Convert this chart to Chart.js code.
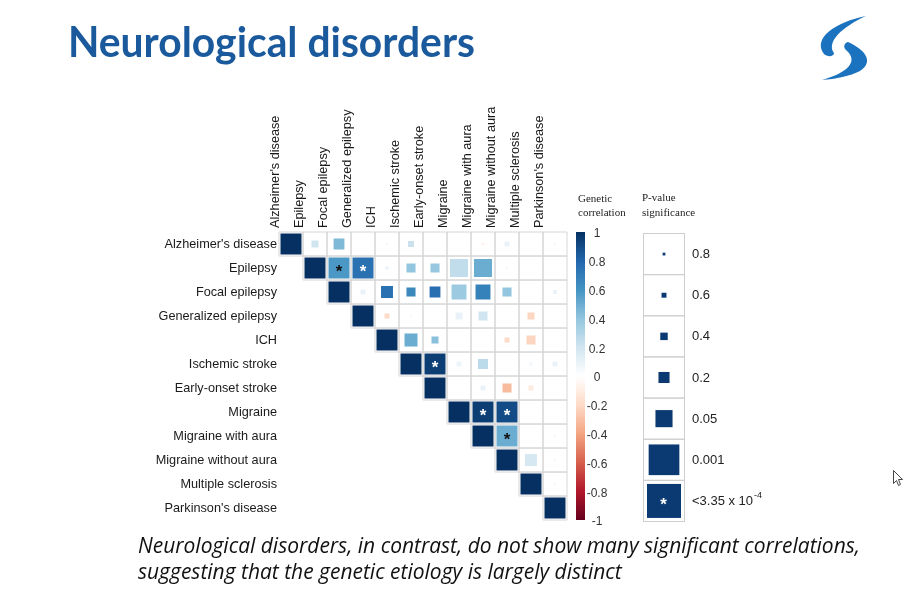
<!DOCTYPE html>
<html>
<head>
<meta charset="utf-8">
<script src="https://cdn.jsdelivr.net/npm/chart.js@4.4.0/dist/chart.umd.min.js"></script>
<style>
html, body { margin: 0; padding: 0; background: #fff; }
#wrap { width: 920px; height: 600px; position: relative; }
</style>
</head>
<body>
<div id="wrap"><canvas id="myChart"></canvas></div>
<script>
var traits = ["Alzheimer's disease", "Epilepsy", "Focal epilepsy", "Generalized epilepsy", "ICH",
    "Ischemic stroke", "Early-onset stroke", "Migraine", "Migraine with aura", "Migraine without aura",
    "Multiple sclerosis", "Parkinson's disease"];

// genetic correlation, row i holds the columns right of the diagonal (j = i+1 ...)
var corrRows = [
    [0.2, 0.45, 0.02, 0.1, 0.22, 0.02, 0.03, -0.15, 0.1, 0.02, 0.05],
    [0.58, 0.75, 0.1, 0.4, 0.38, 0.25, 0.5, 0.05, 0.02, 0.02],
    [0.1, 0.75, 0.65, 0.76, 0.37, 0.68, 0.4, 0.02, 0.1],
    [-0.2, 0.03, 0.02, 0.1, 0.2, 0.03, -0.22, 0.02],
    [0.5, 0.42, 0.02, 0.02, -0.2, -0.22, 0.02],
    [0.95, 0.08, 0.27, 0.02, 0.05, 0.1],
    [0.02, 0.1, -0.32, -0.12, 0.02],
    [0.95, 0.9, 0.02, 0.02],
    [0.5, 0.02, 0.05],
    [0.18, 0.05],
    [0.05]
];

// p-values, same layout
var pRows = [
    [0.19, 0.045, 0.95, 0.8, 0.26, 0.95, 0.95, 0.8, 0.36, 0.95, 0.7],
    [0.0001, 0.00001, 0.6, 0.09, 0.09, 0.0016, 0.0016, 0.7, 0.95, 0.95],
    [0.36, 0.028, 0.09, 0.045, 0.0074, 0.0074, 0.09, 0.95, 0.5],
    [0.36, 0.6, 0.95, 0.19, 0.09, 0.8, 0.19, 0.95],
    [0.018, 0.19, 0.95, 0.95, 0.36, 0.09, 0.95],
    [0.000001, 0.36, 0.063, 0.95, 0.5, 0.36],
    [0.95, 0.36, 0.09, 0.36, 0.95],
    [0.00000001, 0.00000001, 0.95, 0.95],
    [0.00001, 0.95, 0.7],
    [0.028, 0.7],
    [0.7]
];

var cbTicks = ["1", "0.8", "0.6", "0.4", "0.2", "0", "-0.2", "-0.4", "-0.6", "-0.8", "-1"];
var pLegend = [0.8, 0.6, 0.4, 0.2, 0.05, 0.001, 0.000335];
var pLegendLabels = ["0.8", "0.6", "0.4", "0.2", "0.05", "0.001", "<3.35 x 10"];
var sigP = 0.000335;

var palette = ["#67001F", "#B2182B", "#D6604D", "#F4A582", "#FDDBC7", "#FFFFFF",
    "#D1E5F0", "#92C5DE", "#4393C3", "#2166AC", "#053061"];

function hex2rgb(h) {
    return [parseInt(h.substr(1, 2), 16), parseInt(h.substr(3, 2), 16), parseInt(h.substr(5, 2), 16)];
}
function corrColor(r) {
    var t = (r + 1) / 2 * 10;
    var k = Math.min(9, Math.floor(t));
    var f = t - k;
    var a = hex2rgb(palette[k]), b = hex2rgb(palette[k + 1]);
    return 'rgb(' + Math.round(a[0] + (b[0] - a[0]) * f) + ',' + Math.round(a[1] + (b[1] - a[1]) * f) + ',' +
        Math.round(a[2] + (b[2] - a[2]) * f) + ')';
}
// square side as a fraction of the cell, from the p-value
function sizeFrac(p) {
    if (p <= sigP) return 1;
    var v = -Math.log10(p) / -Math.log10(sigP);
    return Math.pow(Math.min(1, v), 0.7);
}

var cells = [];
var frame = [];
for (var i = 0; i < traits.length; i++) {
    for (var j = i; j < traits.length; j++) {
        frame.push({x: traits[j], y: traits[i]});
        if (j == i) cells.push({x: traits[j], y: traits[i], rg: 1, p: 0, diag: true});
        else cells.push({x: traits[j], y: traits[i], rg: corrRows[i][j - i - 1], p: pRows[i][j - i - 1], diag: false});
    }
}

function cellSize(chart) {
    var a = chart.chartArea;
    return a ? (a.right - a.left) / traits.length : 24;
}

var labelFont = {family: "'Liberation Sans', Arial, sans-serif", size: 12.7};

var extras = {
    id: 'extras',
    afterDatasetsDraw: function(chart) {
        var ctx = chart.ctx;
        var xs = chart.scales.x, ys = chart.scales.y;
        ctx.save();
        ctx.font = "bold 17px 'Liberation Sans', Arial, sans-serif";
        ctx.textAlign = 'center';
        ctx.textBaseline = 'middle';
        cells.forEach(function(c) {
            if (c.diag || c.p > sigP) return;
            ctx.fillStyle = c.rg > 0.65 ? '#ffffff' : '#111111';
            ctx.fillText('*', xs.getPixelForValue(traits.indexOf(c.x)), ys.getPixelForValue(traits.indexOf(c.y)) + 4);
        });
        ctx.restore();
    },
    afterDraw: function(chart) {
        var ctx = chart.ctx;
        var a = chart.chartArea;
        ctx.save();

        // title
        ctx.fillStyle = '#1a5a9c';
        ctx.font = "bold 42px Lato, 'Open Sans', sans-serif";
        ctx.textBaseline = 'alphabetic';
        ctx.textAlign = 'left';
        var tw = ctx.measureText('Neurological disorders').width;
        ctx.save();
        ctx.translate(68, 57);
        ctx.scale(407 / tw, 1);
        ctx.fillText('Neurological disorders', 0, 0);
        ctx.restore();

        // logo
        ctx.fillStyle = '#1b72be';
        ctx.beginPath();
        ctx.moveTo(866, 16);
        ctx.bezierCurveTo(836, 22, 812, 38, 824, 54);
        ctx.bezierCurveTo(827, 57, 834, 57, 834, 53);
        ctx.bezierCurveTo(826, 42, 842, 27, 866, 16);
        ctx.fill();
        ctx.beginPath();
        ctx.moveTo(848, 42);
        ctx.bezierCurveTo(866, 50, 874, 62, 860, 71);
        ctx.bezierCurveTo(850, 76, 836, 79, 822, 80);
        ctx.bezierCurveTo(840, 75, 862, 64, 846, 50);
        ctx.bezierCurveTo(843, 47, 844, 43, 848, 42);
        ctx.fill();

        // colour bar
        var bx = a.right + 9, bw = 9;
        var grad = ctx.createLinearGradient(0, a.top, 0, a.bottom);
        for (var k = 0; k < palette.length; k++) grad.addColorStop(1 - k / 10, palette[k]);
        ctx.fillStyle = grad;
        ctx.fillRect(bx, a.top, bw, a.bottom - a.top);
        ctx.fillStyle = '#333';
        ctx.font = "12px 'Liberation Sans', Arial, sans-serif";
        ctx.textAlign = 'center';
        ctx.textBaseline = 'middle';
        for (k = 0; k < cbTicks.length; k++) {
            ctx.fillText(cbTicks[k], bx + 21, a.top + 2 + k * (a.bottom - a.top) / 10);
        }
        ctx.fillStyle = '#222';
        ctx.font = "11px 'Liberation Serif', 'Times New Roman', serif";
        ctx.textAlign = 'left';
        ctx.fillText('Genetic', 578, 199);
        ctx.fillText('correlation', 578, 213);
        ctx.fillText('P-value', 642, 198);
        ctx.fillText('significance', 642, 213);

        // p-value legend
        var lx = 643, lw = 41, lh = (a.bottom + 1 - 233) / pLegend.length;
        for (k = 0; k < pLegend.length; k++) {
            var top = 233 + k * lh;
            ctx.strokeStyle = '#cfcfcf';
            ctx.lineWidth = 1;
            ctx.strokeRect(lx + 0.5, top + 0.5, lw, lh);
            var s = (lw - 7) * sizeFrac(pLegend[k]);
            ctx.fillStyle = '#0b3a73';
            ctx.fillRect(lx + 0.5 + lw / 2 - s / 2, top + 0.5 + lh / 2 - s / 2, s, s);
            ctx.fillStyle = '#222';
            ctx.font = "13px 'Liberation Sans', Arial, sans-serif";
            ctx.textAlign = 'left';
            ctx.fillText(pLegendLabels[k], 692, top + lh / 2 + 1);
            if (pLegend[k] <= sigP) {
                var w = ctx.measureText(pLegendLabels[k]).width;
                ctx.font = "9px 'Liberation Sans', Arial, sans-serif";
                ctx.fillText('-4', 692 + w + 1, top + lh / 2 - 5);
                ctx.fillStyle = '#fff';
                ctx.font = "bold 17px 'Liberation Sans', Arial, sans-serif";
                ctx.textAlign = 'center';
                ctx.fillText('*', lx + lw / 2, top + lh / 2 + 5);
            }
        }

        // caption
        ctx.fillStyle = '#111';
        ctx.font = "italic 21px 'Open Sans', sans-serif";
        ctx.textAlign = 'left';
        ctx.textBaseline = 'alphabetic';
        var line1 = 'Neurological disorders, in contrast, do not show many significant correlations,';
        var line2 = 'suggesting that the genetic etiology is largely distinct';
        var sc = 722 / ctx.measureText(line1).width;
        ctx.save();
        ctx.translate(138, 553);
        ctx.scale(sc, 1);
        ctx.fillText(line1, 0, 0);
        ctx.fillText(line2, 0, 26);
        ctx.restore();

        // mouse pointer left on the slide
        ctx.beginPath();
        ctx.moveTo(893.5, 470.5);
        ctx.lineTo(893.5, 483.5);
        ctx.lineTo(896.5, 480.5);
        ctx.lineTo(898.5, 485.5);
        ctx.lineTo(900.5, 484.5);
        ctx.lineTo(898.5, 479.5);
        ctx.lineTo(902.5, 479.5);
        ctx.closePath();
        ctx.fillStyle = '#fff';
        ctx.fill();
        ctx.strokeStyle = '#444';
        ctx.lineWidth = 1;
        ctx.stroke();

        ctx.restore();
    }
};

var ctx = document.getElementById("myChart");
var heat = new Chart(ctx, {
    type: 'scatter',
    data: {
        datasets: [{
            label: 'cells',
            data: cells,
            order: 1,
            pointStyle: 'rect',
            pointBorderWidth: 0,
            pointRadius: function(c) {
                return (cellSize(c.chart) - 3) * sizeFrac(c.raw.p) / Math.SQRT2;
            },
            pointBackgroundColor: function(c) {
                return corrColor(c.raw.rg);
            },
            pointBorderColor: 'rgba(0,0,0,0)'
        }, {
            label: 'grid',
            data: frame,
            order: 2,
            pointStyle: 'rect',
            pointRadius: function(c) {
                return cellSize(c.chart) / Math.SQRT2;
            },
            pointBackgroundColor: 'rgba(0,0,0,0)',
            pointBorderColor: '#d6d6d6',
            pointBorderWidth: 1
        }]
    },
    options: {
        responsive: true,
        maintainAspectRatio: false,
        animation: false,
        events: [],
        layout: {padding: {left: 0, top: 0, right: 353, bottom: 80}},
        plugins: {legend: {display: false}, tooltip: {enabled: false}},
        scales: {
            x: {
                type: 'category',
                labels: traits,
                position: 'top',
                offset: true,
                grid: {display: false, drawTicks: false},
                border: {display: false},
                ticks: {minRotation: 90, maxRotation: 90, autoSkip: false, padding: 4, color: '#1a1a1a', font: labelFont},
                afterFit: function(s) { s.height = 232; }
            },
            y: {
                type: 'category',
                labels: traits,
                offset: true,
                grid: {display: false, drawTicks: false},
                border: {display: false},
                ticks: {autoSkip: false, padding: 2, color: '#1a1a1a', font: labelFont},
                afterFit: function(s) { s.width = 279; }
            }
        }
    },
    plugins: [extras]
});
</script>
</body>
</html>
